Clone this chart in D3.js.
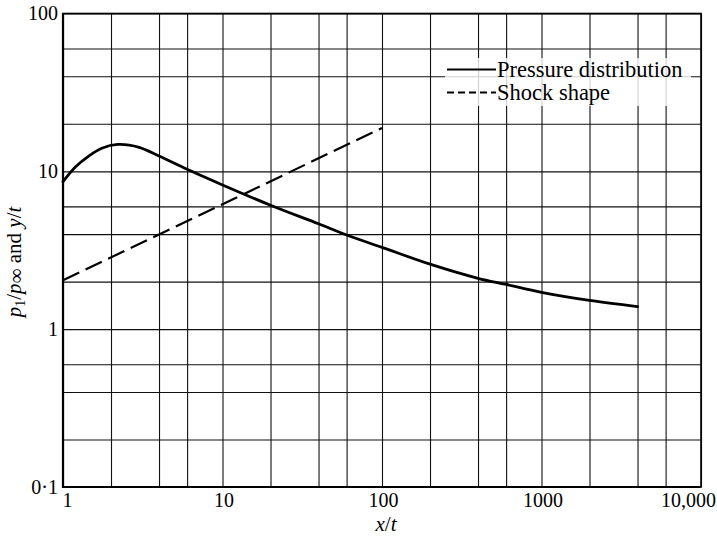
<!DOCTYPE html>
<html>
<head>
<meta charset="utf-8">
<script src="https://cdn.jsdelivr.net/npm/d3@7"></script>
<style>
  body { margin: 0; background: #fff; }
  svg { display: block; }
</style>
</head>
<body>
<div id="chart"></div>
<script>
"use strict";

// Pressure distribution p1/p_inf against x/t
var pressureX = [1, 1.2, 1.45, 1.75, 2.2, 3, 4, 6, 10, 20, 40, 60, 100, 200, 400, 600, 1000, 2000, 4000];
var pressureY = [8.6, 10.7, 12.5, 14.0, 14.8, 14.2, 12.5, 10.3, 8.2, 6.1, 4.65, 3.95, 3.3, 2.58, 2.1, 1.92, 1.71, 1.52, 1.39];

// Shock shape y/t against x/t
var shockX = [1, 100];
var shockY = [2.04, 18.8];

// Grid lines and tick labels
var gridX = [1, 2, 4, 6, 10, 20, 40, 60, 100, 200, 400, 600, 1000, 2000, 4000, 6000, 10000];
var gridY = [0.1, 0.2, 0.4, 0.6, 1, 2, 4, 6, 10, 20, 40, 60, 100];
var tickX = [1, 10, 100, 1000, 10000];
var tickXLabels = ["1", "10", "100", "1000", "10,000"];
var tickY = [0.1, 1, 10, 100];
var tickYLabels = ["0\u00b71", "1", "10", "100"];

var W = 717, H = 539;
var plotL = 63, plotR = 701, plotT = 13.5, plotB = 487;
var serif = "'Liberation Serif', 'DejaVu Serif', serif";

var svg = d3.select("#chart").append("svg")
  .attr("width", W)
  .attr("height", H);

var x = d3.scaleLog().domain([1, 10000]).range([plotL, plotR]);
var y = d3.scaleLog().domain([0.1, 100]).range([plotB, plotT]);

// Grid
var gx = svg.append("g")
  .attr("transform", "translate(0," + plotB + ")")
  .call(d3.axisBottom(x).tickValues(gridX).tickFormat("").tickSize(-(plotB - plotT)).tickSizeOuter(0));
var gy = svg.append("g")
  .attr("transform", "translate(" + plotL + ",0)")
  .call(d3.axisLeft(y).tickValues(gridY).tickFormat("").tickSize(-(plotR - plotL)).tickSizeOuter(0));
[gx, gy].forEach(function(g) {
  g.select(".domain").remove();
  g.selectAll(".tick line")
    .attr("stroke", "#111")
    .attr("stroke-width", 1.1);
});

// Legend knock-out so the grid does not run through the text
svg.append("rect")
  .attr("x", 445).attr("y", 58)
  .attr("width", 246).attr("height", 48)
  .style("fill", "#fff")
  .style("fill-opacity", 0.8);

// Frame
svg.append("rect")
  .attr("x", plotL).attr("y", plotT)
  .attr("width", plotR - plotL).attr("height", plotB - plotT)
  .style("fill", "none")
  .attr("stroke", "#000")
  .attr("stroke-width", 1.6);
svg.append("path")
  .attr("d", "M" + plotL + "," + plotT + "V" + plotB + "H" + plotR)
  .style("fill", "none")
  .attr("stroke", "#000")
  .attr("stroke-width", 2.2);

// Tick labels
var ax = svg.append("g")
  .attr("transform", "translate(0," + plotB + ")")
  .call(d3.axisBottom(x).tickValues(tickX).tickSize(0).tickPadding(6)
    .tickFormat(function(d, i) { return tickXLabels[i]; }));
ax.select(".domain").remove();
ax.selectAll("text")
  .attr("font-family", serif)
  .attr("font-size", "20px")
  .attr("fill", "#000")
  .attr("dx", function(d, i) { return i == 0 ? 4 : (i == tickX.length - 1 ? -13 : 1); });

var ay = svg.append("g")
  .attr("transform", "translate(" + plotL + ",0)")
  .call(d3.axisLeft(y).tickValues(tickY).tickSize(0).tickPadding(5)
    .tickFormat(function(d, i) { return tickYLabels[i]; }));
ay.select(".domain").remove();
ay.selectAll("text")
  .attr("font-family", serif)
  .attr("font-size", "20px")
  .attr("fill", "#000");

// Curves
var line = d3.line()
  .x(function(d) { return x(d[0]); })
  .y(function(d) { return y(d[1]); });

svg.append("path")
  .datum(d3.zip(pressureX, pressureY))
  .attr("d", line.curve(d3.curveCatmullRom.alpha(0.5)))
  .style("fill", "none")
  .attr("stroke", "#000")
  .attr("stroke-width", 2.8)
  .attr("stroke-linecap", "round");

svg.append("path")
  .datum(d3.zip(shockX, shockY))
  .attr("d", line.curve(d3.curveLinear))
  .style("fill", "none")
  .attr("stroke", "#000")
  .attr("stroke-width", 2.2)
  .attr("stroke-dasharray", "18,7");

// Legend
svg.append("line")
  .attr("x1", 447).attr("x2", 496)
  .attr("y1", 69.5).attr("y2", 69.5)
  .attr("stroke", "#000")
  .attr("stroke-width", 2);
svg.append("line")
  .attr("x1", 447).attr("x2", 496)
  .attr("y1", 92.5).attr("y2", 92.5)
  .attr("stroke", "#000")
  .attr("stroke-width", 1.8)
  .attr("stroke-dasharray", "7,4");
svg.append("text")
  .attr("x", 497).attr("y", 77)
  .attr("font-family", serif)
  .attr("font-size", "22.5px")
  .text("Pressure distribution");
svg.append("text")
  .attr("x", 497).attr("y", 100)
  .attr("font-family", serif)
  .attr("font-size", "22.5px")
  .text("Shock shape");

// Axis titles
var xt = svg.append("text")
  .attr("x", 386).attr("y", 531)
  .attr("text-anchor", "middle")
  .attr("font-family", serif)
  .attr("font-size", "21px");
xt.append("tspan").attr("font-style", "italic").text("x");
xt.append("tspan").text("/");
xt.append("tspan").attr("font-style", "italic").text("t");

var yt = svg.append("text")
  .attr("transform", "translate(21,262) rotate(-90)")
  .attr("text-anchor", "middle")
  .attr("font-family", serif)
  .attr("font-size", "21px");
yt.append("tspan").attr("font-style", "italic").text("p");
yt.append("tspan").attr("font-size", "14px").attr("dy", 4).text("1");
yt.append("tspan").attr("dy", -4).text("/");
yt.append("tspan").attr("font-style", "italic").text("p");
yt.append("tspan").attr("dy", 2).text("\u221e");
yt.append("tspan").attr("dy", -2).text(" and ");
yt.append("tspan").attr("font-style", "italic").text("y");
yt.append("tspan").text("/");
yt.append("tspan").attr("font-style", "italic").text("t");
</script>
</body>
</html>
